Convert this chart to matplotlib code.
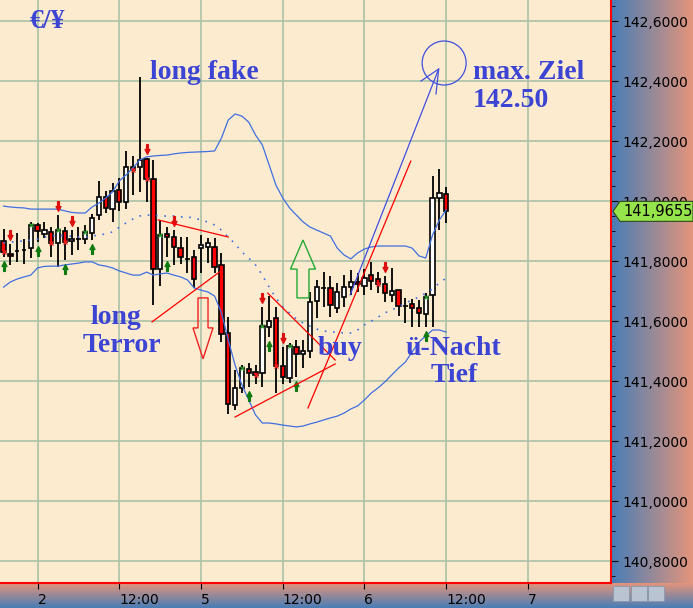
import numpy as np
import matplotlib.pyplot as plt
from matplotlib.patches import Ellipse, FancyArrow, Polygon, Rectangle
from matplotlib.path import Path
from matplotlib.ticker import FuncFormatter, MultipleLocator
from matplotlib.colors import LinearSegmentedColormap
from matplotlib import transforms

# hourly candles, t = hours since day "2" 00:00
opens = [141.867, 141.823, 141.833, 141.837, 141.843, 141.92, 141.89, 141.897, 141.86, 141.9,
         141.867, 141.873, 141.873, 141.893, 141.953, 142.013, 141.973, 142.037, 141.997, 142.113,
         142.113, 142.14, 142.073, 141.773, 141.89, 141.88, 141.843, 141.807, 141.813, 141.843,
         141.847, 141.847, 141.787, 141.56, 141.32, 141.377, 141.44, 141.43, 141.427, 141.58,
         141.61, 141.45, 141.41, 141.513, 141.49, 141.5, 141.667, 141.71, 141.71, 141.643,
         141.68, 141.713, 141.73, 141.717, 141.753, 141.74, 141.723, 141.687, 141.703, 141.65,
         141.657, 141.643, 141.623, 141.687, 142.01, 142.023]
highs = [141.907, 141.857, 141.893, 141.873, 141.93, 141.927, 141.93, 141.913, 141.953, 141.913,
         141.903, 141.913, 141.92, 141.957, 142.067, 142.033, 142.06, 142.077, 142.167, 142.15,
         142.413, 142.143, 142.137, 141.933, 141.913, 141.903, 141.88, 141.88, 141.837, 141.887,
         141.877, 141.877, 141.827, 141.613, 141.437, 141.453, 141.46, 141.453, 141.647, 141.683,
         141.647, 141.513, 141.527, 141.537, 141.537, 141.697, 141.737, 141.763, 141.75, 141.727,
         141.753, 141.77, 141.76, 141.773, 141.797, 141.763, 141.75, 141.777, 141.703, 141.677,
         141.673, 141.67, 141.693, 142.083, 142.107, 142.047]
lows = [141.813, 141.787, 141.797, 141.79, 141.81, 141.863, 141.877, 141.813, 141.78, 141.803,
        141.82, 141.837, 141.857, 141.87, 141.937, 141.96, 141.93, 141.967, 141.973, 142.02,
        142.03, 141.997, 141.653, 141.717, 141.813, 141.787, 141.79, 141.76, 141.71, 141.76,
        141.793, 141.76, 141.53, 141.29, 141.303, 141.36, 141.38, 141.39, 141.38, 141.547,
        141.36, 141.39, 141.393, 141.413, 141.443, 141.477, 141.61, 141.647, 141.613, 141.627,
        141.647, 141.687, 141.697, 141.687, 141.703, 141.693, 141.663, 141.663, 141.617, 141.593,
        141.58, 141.58, 141.58, 141.58, 141.903, 141.927]
closes = [141.83, 141.817, 141.833, 141.837, 141.92, 141.9, 141.903, 141.86, 141.903, 141.863,
          141.873, 141.873, 141.897, 141.943, 142.013, 141.977, 142.033, 141.997, 142.113, 142.103,
          142.137, 142.073, 141.773, 141.887, 141.88, 141.847, 141.813, 141.807, 141.74, 141.853,
          141.86, 141.78, 141.557, 141.323, 141.377, 141.443, 141.427, 141.42, 141.583, 141.6,
          141.45, 141.413, 141.517, 141.49, 141.5, 141.663, 141.713, 141.71, 141.653, 141.697,
          141.713, 141.73, 141.723, 141.743, 141.733, 141.723, 141.693, 141.7, 141.65, 141.65,
          141.643, 141.627, 141.68, 142.01, 142.027, 141.9655]

upper_band = [141.983, 141.98, 141.978, 141.977, 141.973, 141.973, 141.973, 141.973, 141.973, 141.967,
              141.962, 141.96, 141.96, 141.98, 141.993, 142.01, 142.03, 142.067, 142.087, 142.11,
              142.137, 142.147, 142.15, 142.152, 142.153, 142.157, 142.16, 142.162, 142.163, 142.164,
              142.165, 142.167, 142.21, 142.27, 142.29, 142.283, 142.263, 142.22, 142.187, 142.12,
              142.053, 142.01, 141.977, 141.953, 141.93, 141.913, 141.903, 141.893, 141.883, 141.843,
              141.82, 141.807, 141.827, 141.84, 141.847, 141.85, 141.85, 141.85, 141.85, 141.85,
              141.843, 141.817, 141.81, 141.887, 141.937, 141.97]
lower_band = [141.713, 141.73, 141.74, 141.747, 141.753, 141.777, 141.782, 141.783, 141.783, 141.787,
              141.79, 141.793, 141.797, 141.797, 141.787, 141.783, 141.777, 141.767, 141.76, 141.753,
              141.753, 141.763, 141.753, 141.757, 141.76, 141.753, 141.747, 141.737, 141.71, 141.703,
              141.697, 141.683, 141.627, 141.537, 141.453, 141.387, 141.337, 141.287, 141.26, 141.26,
              141.257, 141.253, 141.25, 141.247, 141.25, 141.257, 141.263, 141.27, 141.277, 141.283,
              141.293, 141.307, 141.317, 141.337, 141.36, 141.377, 141.397, 141.42, 141.443, 141.463,
              141.497, 141.53, 141.55, 141.57, 141.57, 141.563]
mid_line = [141.86, 141.863, 141.865, 141.867, 141.87, 141.873, 141.88, 141.883, 141.887, 141.883,
            141.883, 141.88, 141.88, 141.883, 141.887, 141.89, 141.897, 141.913, 141.927, 141.94,
            141.95, 141.953, 141.953, 141.95, 141.95, 141.95, 141.947, 141.947, 141.943, 141.937,
            141.93, 141.92, 141.903, 141.88, 141.857, 141.83, 141.81, 141.787, 141.753, 141.713,
            141.677, 141.647, 141.627, 141.607, 141.593, 141.583, 141.573, 141.567, 141.563, 141.563,
            141.56, 141.56, 141.57, 141.587, 141.6, 141.613, 141.627, 141.637, 141.647, 141.66,
            141.67, 141.68, 141.693, 141.707, 141.727, 141.743]

first_hour = -5
down_arrows = [1, 8, 10, 21, 25, 38, 41, 56]
up_arrows = [0, 5, 9, 13, 24, 36, 39, 43, 62]
green_marks = [4, 8, 12, 23, 35, 38, 42, 62]
red_marks = [0, 7, 9, 19, 21, 37, 40, 55]

tick_hours = [0, 12, 24, 36, 48, 60, 72]
tick_names = ['2', '12:00', '5', '12:00', '6', '12:00', '7']

# drawn lines / notes
red_lines = [([16.8, 27.1], [141.597, 141.77]),
             ([17.7, 28.0], [141.937, 141.88]),
             ([33.8, 43.7], [141.693, 141.47]),
             ([29.0, 43.7], [141.28, 141.457]),
             ([39.7, 54.8], [141.31, 142.133])]
target_arrow = ([45.9, 58.9], [141.687, 142.44])
target_barbs = ([56.3, 58.9, 58.5], [142.4, 142.44, 142.357])
target_circle = (59.7, 142.46)

txt_color = '#3c44d4'
bg = '#fdebcf'
grid_c = '#abc2a6'

t = np.arange(len(opens)) + first_hour
o = np.array(opens); h = np.array(highs); l = np.array(lows); c = np.array(closes)

fig = plt.figure(figsize=(6.93, 6.08), dpi=100)
W, H = 693, 608

# gradient panels
cm = LinearSegmentedColormap.from_list('g', ['#477db7', '#e4957b'])
grad = np.linspace(0, 1, 256).reshape(1, -1)
rp = fig.add_axes([611 / W, 25 / H, 82 / W, 583 / H], zorder=0)
rp.imshow(grad, aspect='auto', cmap=cm, extent=[0, 1, 0, 1])
rp.axis('off')
bp = fig.add_axes([0, 0, 1, 25 / H], zorder=0)
bp.imshow(grad.T[::-1], aspect='auto', cmap=cm, extent=[0, 1, 0, 1])
bp.axis('off')

ax = fig.add_axes([0, 25 / H, 611 / W, 583 / H], zorder=1)
ax.set_facecolor(bg)
ax.set_xlim(-5.52, 84.2)
ax.set_ylim(140.7267, 142.67)

ax.set_xticks(tick_hours)
ax.set_xticklabels(tick_names, ha='left', fontsize=10)
ax.yaxis.tick_right()
ax.set_yticks(np.arange(140.8, 142.61, 0.2))
ax.yaxis.set_minor_locator(MultipleLocator(0.05))
ax.yaxis.set_major_formatter(FuncFormatter(lambda v, p: f'{v:.4f}'.replace('.', ',')))
ax.tick_params(axis='y', which='major', length=5, pad=3, labelsize=10, colors='black')
ax.tick_params(axis='y', which='minor', length=3)
ax.tick_params(axis='x', length=4, pad=3)
for s in ['top', 'left']:
    ax.spines[s].set_visible(False)
for s in ['right', 'bottom']:
    ax.spines[s].set_color('red')
    ax.spines[s].set_linewidth(1.5)
ax.grid(True, color=grid_c, linewidth=1.2)
ax.set_axisbelow(True)

# candles
up = c >= o
bw = 0.64
ax.vlines(t, l, h, color='black', linewidth=1.3, zorder=2)
ax.bar(t[up], c[up] - o[up], bottom=o[up], width=bw, color='white', edgecolor='black', linewidth=1.2, zorder=3)
ax.bar(t[~up], o[~up] - c[~up], bottom=c[~up], width=bw, color='#ff0000', edgecolor='black', linewidth=1.2, zorder=3)

# bands
ax.plot(t, upper_band, color='#3f6fe0', linewidth=0.9, zorder=4)
ax.plot(t, lower_band, color='#3f6fe0', linewidth=0.9, zorder=4)
ax.plot(t, mid_line, color='#3f6fe0', linewidth=1.2, linestyle=(0, (1, 4)), zorder=4)

# fractal arrows
arr = Path([(-0.18, -1), (0.18, -1), (0.18, 0), (0.5, 0), (0, 1), (-0.5, 0), (-0.18, 0), (-0.18, -1)],
           [1, 2, 2, 2, 2, 2, 2, 79])
arr_dn = Path(arr.vertices * [1, -1], arr.codes)
above = transforms.offset_copy(ax.transData, fig=fig, y=9, units='dots')
below = transforms.offset_copy(ax.transData, fig=fig, y=-9, units='dots')
ax.plot(t[down_arrows], h[down_arrows], linestyle='none', marker=arr_dn, markersize=7,
        color='#dd1010', transform=above, zorder=5)
ax.plot(t[up_arrows], l[up_arrows], linestyle='none', marker=arr, markersize=7,
        color='#0f7a10', transform=below, zorder=5)
ax.plot(t[green_marks], c[green_marks], linestyle='none', marker='x', markersize=3,
        mew=0.9, color='#2a9a2a', zorder=5)
ax.plot(t[red_marks], c[red_marks], linestyle='none', marker='x', markersize=3,
        mew=0.9, color='#ff2020', zorder=5)

# hand drawn lines
for xs, ys in red_lines:
    ax.plot(xs, ys, color='red', linewidth=0.9, zorder=6)
ax.plot(*target_arrow, color='#3f4fe0', linewidth=0.9, zorder=6)
ax.plot(*target_barbs, color='#3f4fe0', linewidth=0.9, zorder=6)
ax.add_patch(Ellipse(target_circle, 44 / 6.81, 44 / 300, fill=False, edgecolor='#3f4fe0', linewidth=0.9, zorder=6))
ax.add_patch(FancyArrow(38.97, 141.677, 0, 0.193, width=1.76, head_width=3.67, head_length=0.097,
                        length_includes_head=True, fill=False, edgecolor='#22aa33', linewidth=1, zorder=6))
ax.add_patch(FancyArrow(24.29, 141.677, 0, -0.203, width=1.47, head_width=2.94, head_length=0.103,
                        length_includes_head=True, fill=False, edgecolor='#ee2222', linewidth=1, zorder=6))

tk = dict(color=txt_color, fontsize=20, fontweight='bold', family='Liberation Serif', zorder=7, va='center')
ax.text(-1.12, 142.597, '€/¥', ha='left', **tk)
ax.text(16.5, 142.43, 'long fake', ha='left', **tk)
ax.text(63.9, 142.43, 'max. Ziel', ha='left', **tk)
ax.text(63.9, 142.336, '142.50', ha='left', **tk)
ax.text(11.5, 141.613, 'long', ha='center', **tk)
ax.text(12.4, 141.52, 'Terror', ha='center', **tk)
ax.text(41.2, 141.51, 'buy', ha='left', **tk)
ax.text(61.0, 141.51, 'ü-Nacht', ha='center', **tk)
ax.text(61.15, 141.42, 'Tief', ha='center', **tk)

# last price tag
fig.canvas.draw()
yd = ax.transData.transform((0, closes[-1]))[1]
tag = Polygon([(613, yd), (620, yd + 10), (693, yd + 10), (693, yd - 10), (620, yd - 10)],
              closed=True, transform=None, facecolor='#96e44c', edgecolor='#2f4a1c', linewidth=0.8, zorder=10)
fig.add_artist(tag)
fig.text(623 / W, yd / H, f'{closes[-1]:.4f}'.replace('.', ','), fontsize=10.5, va='center', ha='left', zorder=11)

# small toolbar buttons
for bx in [613, 631, 648]:
    fig.add_artist(Rectangle((bx, 7), 16, 15, transform=None, facecolor='#b9c3d2', edgecolor='#8a98ac', linewidth=0.6, zorder=10))

fig.savefig('out.png', dpi=100)
